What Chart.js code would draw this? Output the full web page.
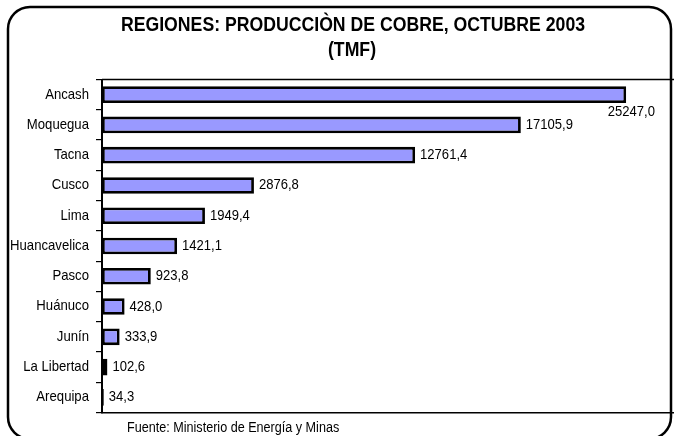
<!DOCTYPE html>
<html>
<head>
<meta charset="utf-8">
<script src="https://cdn.jsdelivr.net/npm/chart.js@4.4.1/dist/chart.umd.min.js"></script>
<style>
  html, body { margin: 0; padding: 0; background: #fff; }
  #wrap { width: 674px; height: 436px; position: relative; }
</style>
</head>
<body>
<div id="wrap"><canvas id="cobreChart" width="674" height="436"></canvas></div>
<script>
// regiones y produccion (TMF) tal como aparecen en el grafico
const regiones = ['Ancash', 'Moquegua', 'Tacna', 'Cusco', 'Lima', 'Huancavelica', 'Pasco', 'Huánuco', 'Junín', 'La Libertad', 'Arequipa'];
const produccion = [25247.0, 17105.9, 12761.4, 2876.8, 1949.4, 1421.1, 923.8, 428.0, 333.9, 102.6, 34.3];
// largo de cada barra (las tres primeras no siguen la escala de su etiqueta)
const longitudBarra = [9924, 7930, 5928, 2876.8, 1949.4, 1421.1, 923.8, 428.0, 333.9, 102.6, 34.3];
const titulo = ['REGIONES: PRODUCCIÒN DE COBRE, OCTUBRE 2003', '(TMF)'];
const fuente = 'Fuente: Ministerio de Energía y Minas';

const FONT = "'Liberation Sans', Arial, sans-serif";
const NARROW = 0.9; // el original usa una letra angosta

const fmt = v => v.toFixed(1).replace('.', ',');

// texto comprimido en horizontal
function narrowText(ctx, txt, x, y, k) {
    const w = ctx.measureText(txt).width;
    ctx.fillText(txt, x, y, w * k);
}

// marco redondeado, titulo, fuente, linea superior, nombres y valores
const decoPlugin = {
    id: 'deco',
    beforeDraw(chart) {
        const ctx = chart.ctx;
        const a = chart.chartArea;
        ctx.save();
        ctx.fillStyle = '#fff';
        ctx.fillRect(0, 0, chart.width, chart.height);
        ctx.lineWidth = 2.5;
        ctx.strokeStyle = '#000';
        ctx.beginPath();
        ctx.roundRect(8, 7, 663, 432, 22);
        ctx.stroke();
        ctx.lineWidth = 1.5;
        ctx.beginPath();
        ctx.moveTo(a.left, a.top);
        ctx.lineTo(a.right, a.top);
        ctx.stroke();
        ctx.fillStyle = '#000';
        ctx.textAlign = 'center';
        ctx.textBaseline = 'middle';
        ctx.font = "bold 20px " + FONT;
        narrowText(ctx, titulo[0], 353, 25, 0.883);
        narrowText(ctx, titulo[1], 352, 50, 0.883);
        ctx.textAlign = 'left';
        ctx.font = "14px " + FONT;
        narrowText(ctx, fuente, 127, 428, NARROW);
        ctx.restore();
    },
    afterDatasetsDraw(chart) {
        const ctx = chart.ctx;
        const yScale = chart.scales.y;
        const bars = chart.getDatasetMeta(0).data;
        ctx.save();
        ctx.fillStyle = '#000';
        ctx.textBaseline = 'middle';
        ctx.font = "14.3px " + FONT;
        ctx.textAlign = 'right';
        regiones.forEach((r, i) => {
            narrowText(ctx, r, yScale.left + yScale.width - 13, yScale.getPixelForTick(i), 0.92);
        });
        ctx.font = "14.5px " + FONT;
        bars.forEach((bar, i) => {
            const txt = fmt(produccion[i]);
            const w = ctx.measureText(txt).width * NARROW;
            if (bar.x + 5 + w > chart.width - 8) {
                ctx.textAlign = 'right';
                narrowText(ctx, txt, chart.width - 19, bar.y + 17, NARROW);
            } else {
                ctx.textAlign = 'left';
                narrowText(ctx, txt, bar.x + 5, bar.y, NARROW);
            }
        });
        ctx.restore();
    }
};

const ctx = document.getElementById('cobreChart').getContext('2d');
new Chart(ctx, {
    type: 'bar',
    data: {
        labels: regiones,
        datasets: [{
            data: longitudBarra,
            backgroundColor: '#9999ff',
            borderColor: '#000',
            borderWidth: 2.8,
            borderSkipped: false,
            barPercentage: 0.55,
            categoryPercentage: 1
        }]
    },
    options: {
        indexAxis: 'y',
        responsive: false,
        animation: false,
        layout: { padding: { top: 79.5, bottom: 23.5, left: 0, right: 0 } },
        plugins: { legend: { display: false }, tooltip: { enabled: false }, title: { display: false } },
        scales: {
            x: {
                min: 0,
                max: 10830,
                ticks: { display: false },
                grid: { display: false, drawTicks: false },
                border: { display: true, color: '#000', width: 1.5 },
                afterFit(scale) { scale.height = 0; }
            },
            y: {
                offset: true,
                ticks: { display: false },
                grid: { offset: true, drawOnChartArea: false, drawTicks: true, tickLength: 6, color: '#000', lineWidth: 1.2 },
                border: { display: true, color: '#000', width: 2 },
                afterFit(scale) { scale.width = 102; }
            }
        }
    },
    plugins: [decoPlugin]
});
</script>
</body>
</html>
